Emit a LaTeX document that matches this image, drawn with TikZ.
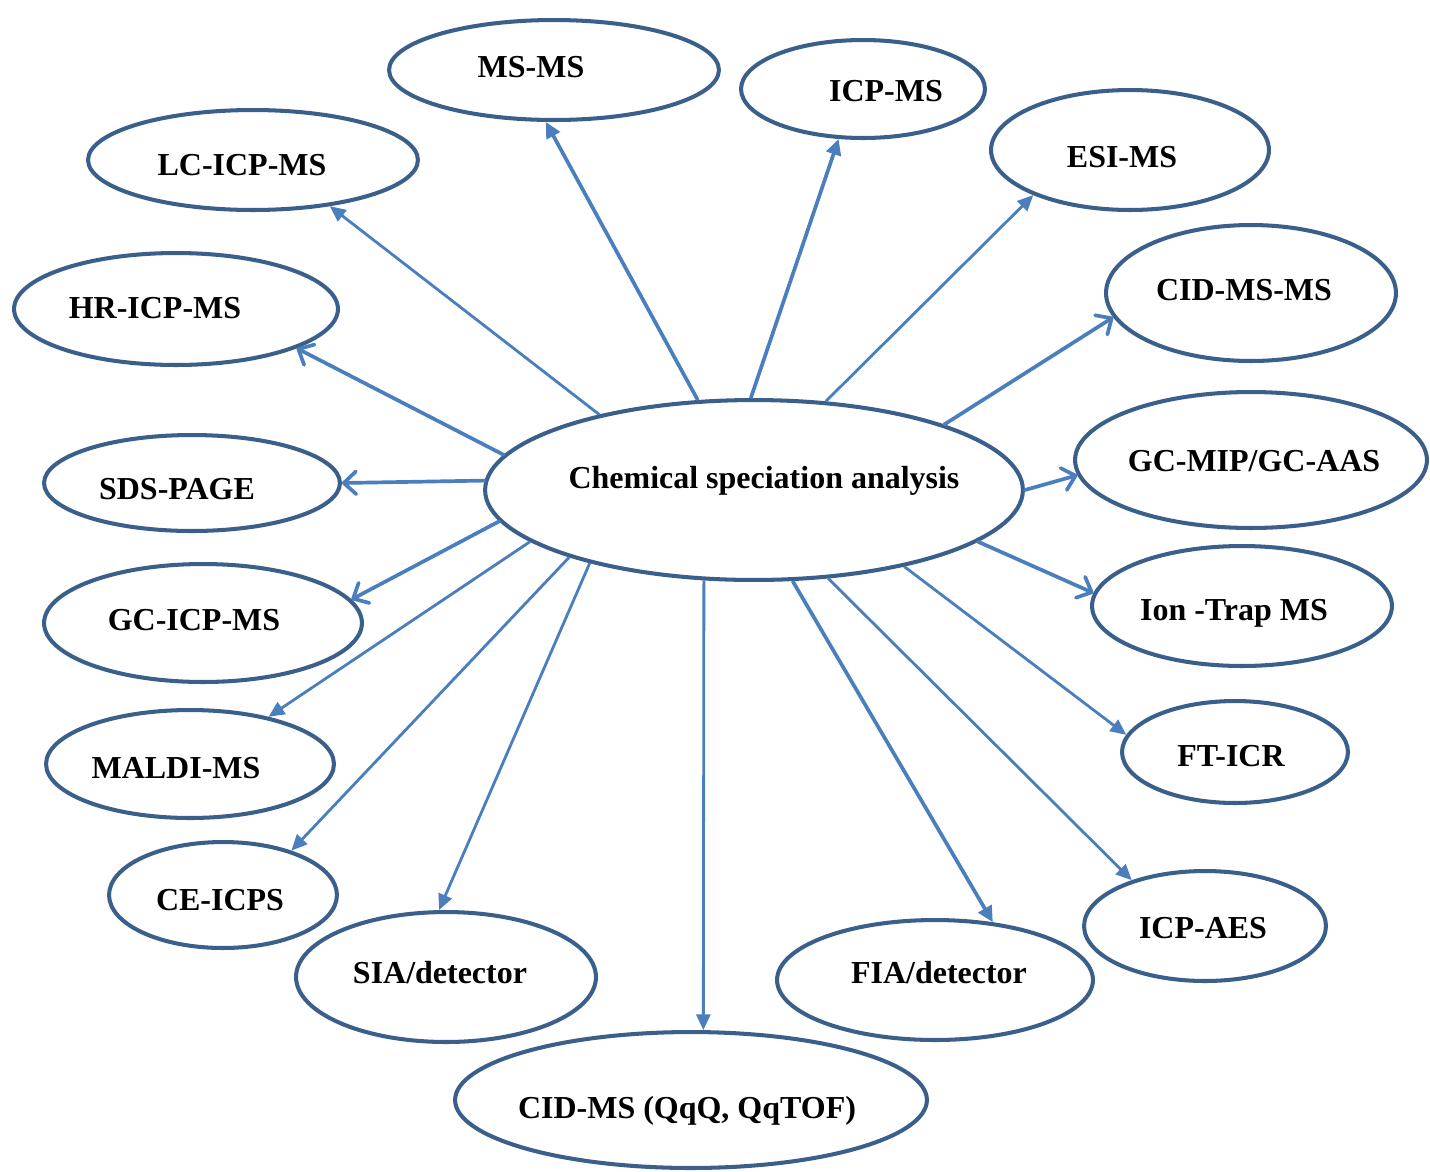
\documentclass[tikz,border=0pt]{standalone}
\usepackage{fontspec}
\setmainfont{Liberation Serif}
\usetikzlibrary{shapes.geometric,arrows.meta}
\definecolor{rim}{RGB}{58,95,139}
\definecolor{link}{RGB}{74,126,189}
\tikzset{
  bubble/.style={ellipse, draw=rim, line width=2.3pt, fill=white, inner sep=0pt},
  radii/.style 2 args={minimum width=#1*0.04cm-0.08cm, minimum height=#2*0.04cm-0.08cm},
  caption/.style={anchor=base, inner sep=0pt, font=\fontsize{18.2}{22}\selectfont\bfseries},
  solidtip/.style={draw=link, line width=1.6pt, -{Triangle[length=9pt,width=8pt]}},
  boldtip/.style={draw=link, line width=2.1pt, -{Triangle[length=9pt,width=8.5pt]}},
  opentip/.style={draw=link, line width=2.1pt, line cap=round,
    -{Straight Barb[length=7pt,width=13pt,line width=2.1pt,round]}},
}
\begin{document}
\begin{tikzpicture}[x=0.02cm, y=-0.02cm]
\useasboundingbox (0,0) rectangle (1430,1171);

% ellipses
\node[bubble, radii={271}{92}] (core) at (754,490) {};
\node[bubble, radii={167}{52}] (ms) at (554,70) {};
\node[bubble, radii={124}{51}] (icp) at (863,89) {};
\node[bubble, radii={141}{62}] (esi) at (1130,150) {};
\node[bubble, radii={167}{52}] (lc) at (253,160) {};
\node[bubble, radii={164}{58}] (hr) at (176,309) {};
\node[bubble, radii={147}{70}] (cidmsms) at (1251,293) {};
\node[bubble, radii={150}{50}] (sds) at (192,483) {};
\node[bubble, radii={178}{70}] (gcmip) at (1251,460) {};
\node[bubble, radii={152}{62}] (trap) at (1242,606) {};
\node[bubble, radii={161}{61}] (gcicp) at (203,623) {};
\node[bubble, radii={146}{56}] (maldi) at (190,764) {};
\node[bubble, radii={115}{53}] (fticr) at (1235,752) {};
\node[bubble, radii={116}{55}] (ce) at (223,895) {};
\node[bubble, radii={123}{57}] (aes) at (1205,926) {};
\node[bubble, radii={152}{67}] (sia) at (446,977) {};
\node[bubble, radii={160}{62}] (fia) at (935,980) {};
\node[bubble, radii={238}{70}] (cidms) at (691,1100) {};

% labels
\node[caption] (core-t) at (764,488) {Chemical speciation analysis};
\node[caption] (ms-t) at (531,77) {MS-MS};
\node[caption] (icp-t) at (886,101) {ICP-MS};
\node[caption] (esi-t) at (1122,167) {ESI-MS};
\node[caption] (lc-t) at (242,175) {LC-ICP-MS};
\node[caption] (hr-t) at (155,318) {HR-ICP-MS};
\node[caption] (cidmsms-t) at (1244,300) {CID-MS-MS};
\node[caption] (sds-t) at (177,499) {SDS-PAGE};
\node[caption] (gcmip-t) at (1254,471) {GC-MIP/GC-AAS};
\node[caption] (trap-t) at (1234,620) {Ion -Trap MS};
\node[caption] (gcicp-t) at (194,630) {GC-ICP-MS};
\node[caption] (maldi-t) at (176,778) {MALDI-MS};
\node[caption] (fticr-t) at (1231,766) {FT-ICR};
\node[caption] (ce-t) at (220,910) {CE-ICPS};
\node[caption] (aes-t) at (1203,938) {ICP-AES};
\node[caption] (sia-t) at (440,983) {SIA/detector};
\node[caption] (fia-t) at (939,983) {FIA/detector};
\node[caption] (cidms-t) at (687,1118) {CID-MS (QqQ, QqTOF)};

% connectors
\draw[boldtip]  (core.122.3) -- (ms.261.4);
\draw[boldtip]  (core.92.5)  -- (icp.244.3);
\draw[solidtip] (core.51.3)  -- (esi.205.2);
\draw[solidtip] (core.154.5) -- (lc.329.6);
\draw[opentip]  (core.172)   -- (hr.342.1);
\draw[opentip]  (core.19)    -- (cidmsms.190.1);
\draw[opentip]  (core.178.1) -- (sds.0.4);
\draw[opentip]  (core.0.85)  -- (gcmip.185.3);
\draw[opentip]  (core.187.1) -- (gcicp.9.8);
\draw[opentip]  (core.347.3) -- (trap.175.6);
\draw[solidtip] (core.193.8) -- (maldi.31.6);
\draw[solidtip] (core.333.4) -- (fticr.171.1);
\draw[solidtip] (core.200.5) -- (ce.33.5);
\draw[solidtip] (core.310)   -- (aes.148.6);
\draw[solidtip] (core.204.9) -- (sia.96.4);
\draw[boldtip]  (core.293.1) -- (fia.45.5);
\draw[solidtip] (core.241.8) -- (cidms.80.8);
\end{tikzpicture}
\end{document}
